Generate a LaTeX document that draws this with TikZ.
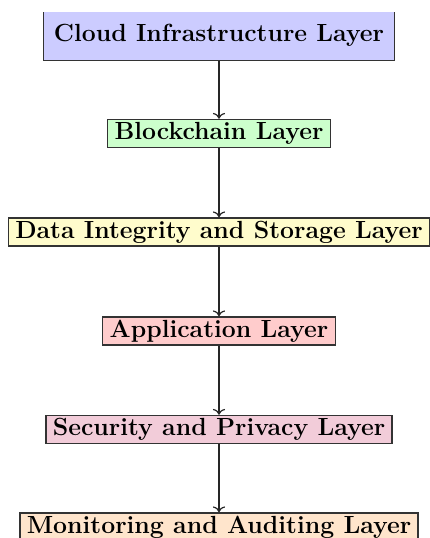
\documentclass[tikz,border=0pt]{standalone}
\usetikzlibrary{arrows.meta}
\tikzset{
  layer/.style={draw=black!80, line width=0.75pt, font=\fontsize{12.4}{14}\selectfont\bfseries,
    inner xsep=3.5pt, inner ysep=0pt, minimum height=14pt,
    text height=8.5pt, text depth=2.5pt, anchor=center},
  flow/.style={->, line width=0.6pt, draw=black!85}
}
\begin{document}
\begin{tikzpicture}[x=1pt,y=1pt]
  % page frame: 215pt x 269pt
  \useasboundingbox (0,0) rectangle (215,-269);
  \clip (0,-6) rectangle (215,-269);
  \node[layer, fill=blue!20, minimum width=175.5pt, minimum height=25pt] (cloud) at (109.5,-17.75) {Cloud Infrastructure Layer};
  \node[layer, fill=green!20] (chain) at (109.5,-66.75) {Blockchain Layer};
  \node[layer, fill=yellow!20] (data) at (109.5,-116) {Data Integrity and Storage Layer};
  \node[layer, fill=red!20] (app) at (109.5,-165.5) {Application Layer};
  \node[layer, fill=purple!20] (sec) at (109.5,-214.75) {Security and Privacy Layer};
  \node[layer, fill=orange!20] (mon) at (109.5,-263.5) {Monitoring and Auditing Layer};
  \draw[flow] (cloud) -- (chain);
  \draw[flow] (chain) -- (data);
  \draw[flow] (data) -- (app);
  \draw[flow] (app) -- (sec);
  \draw[flow] (sec) -- (mon);
\end{tikzpicture}
\end{document}
